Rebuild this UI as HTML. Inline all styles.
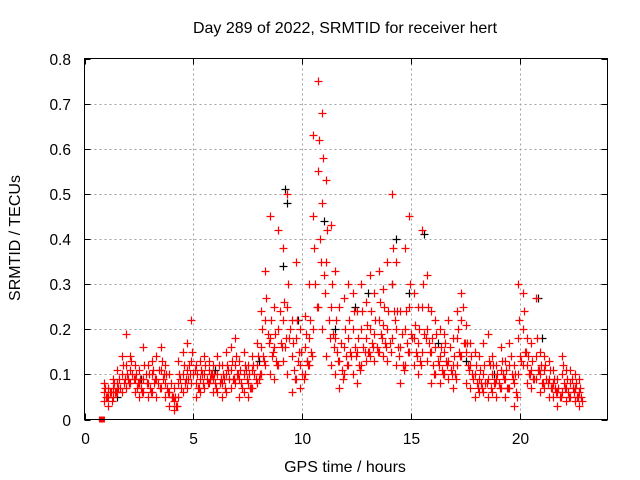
<!DOCTYPE html>
<html><head><meta charset="utf-8"><style>
body{margin:0;background:#fff}
svg{display:block;font-family:"Liberation Sans",sans-serif}
</style></head><body>
<svg id="chart" width="640" height="480" viewBox="0 0 640 480" xmlns="http://www.w3.org/2000/svg">
<rect width="640" height="480" fill="#fff"/>
<text x="345" y="33" font-size="16" text-anchor="middle">Day 289 of 2022, SRMTID for receiver hert</text>
<text transform="translate(20,238) rotate(-90)" font-size="16" text-anchor="middle">SRMTID / TECUs</text>
<text x="345" y="472" font-size="16" text-anchor="middle">GPS time / hours</text>
<g id="grid"></g>
<g id="ticks"></g>
<g id="blk"></g>
<g id="red"></g>
<rect x="84.5" y="58.5" width="523" height="361" fill="none" stroke="#000" stroke-width="1"/>
</svg>
<script>
const xTicks=[0,5,10,15,20];
const yTicks=[0,0.1,0.2,0.3,0.4,0.5,0.6,0.7,0.8];
const times=[0.9,1.1,1.3,1.5,1.7,1.9,2.1,2.3,2.5,2.7,2.9,3.1,3.3,3.5,3.7,3.9,4.1,4.3,4.5,4.7,4.9,5.1,5.3,5.5,5.7,5.9,6.1,6.3,6.5,6.7,6.9,7.1,7.3,7.5,7.7,7.9,8.1,8.3,8.5,8.7,8.9,9.1,9.3,9.5,9.7,9.9,10.1,10.3,10.5,10.7,10.9,11.1,11.3,11.5,11.7,11.9,12.1,12.3,12.5,12.7,12.9,13.1,13.3,13.5,13.7,13.9,14.1,14.3,14.5,14.7,14.9,15.1,15.3,15.5,15.7,15.9,16.1,16.3,16.5,16.7,16.9,17.1,17.3,17.5,17.7,17.9,18.1,18.3,18.5,18.7,18.9,19.1,19.3,19.5,19.7,19.9,20.1,20.3,20.5,20.7,20.9,21.1,21.3,21.5,21.7,21.9,22.1,22.3,22.5,22.7];
const redLo=[.04,.03,.05,.06,.06,.07,.08,.06,.05,.06,.05,.06,.05,.07,.05,.03,.02,.05,.06,.07,.08,.05,.06,.07,.08,.06,.06,.05,.06,.07,.08,.05,.06,.05,.07,.08,.10,.12,.10,.09,.12,.13,.10,.06,.09,.07,.10,.12,.20,.25,.20,.14,.12,.10,.07,.10,.12,.10,.08,.12,.13,.14,.13,.15,.14,.13,.18,.12,.08,.12,.15,.12,.10,.15,.13,.08,.10,.08,.10,.09,.07,.12,.14,.08,.07,.05,.06,.06,.05,.06,.05,.07,.05,.07,.03,.10,.12,.08,.07,.09,.06,.07,.05,.05,.03,.06,.04,.05,.04,.03];
const redMid=[.06,.05,.07,.08,.10,.12,.11,.09,.08,.09,.08,.10,.09,.11,.08,.06,.04,.08,.10,.11,.13,.08,.09,.10,.11,.09,.10,.08,.10,.11,.12,.09,.10,.08,.11,.12,.16,.22,.18,.16,.20,.22,.25,.14,.18,.12,.16,.18,.45,.55,.48,.35,.25,.18,.13,.16,.18,.20,.15,.20,.18,.20,.19,.22,.21,.20,.30,.20,.16,.20,.25,.18,.17,.25,.20,.15,.16,.14,.15,.13,.12,.18,.22,.15,.12,.10,.09,.10,.09,.10,.09,.11,.09,.12,.08,.18,.20,.12,.11,.14,.10,.11,.09,.08,.06,.10,.07,.08,.07,.06];
const redHi=[.08,.07,.09,.11,.14,.19,.14,.12,.11,.16,.12,.13,.14,.16,.12,.10,.07,.13,.15,.17,.22,.12,.13,.14,.13,.12,.14,.12,.15,.16,.18,.13,.15,.12,.14,.17,.24,.33,.45,.25,.42,.38,.50,.22,.35,.20,.23,.30,.63,.75,.68,.53,.43,.33,.25,.27,.30,.28,.24,.30,.26,.32,.28,.33,.29,.35,.50,.35,.24,.38,.45,.28,.25,.42,.32,.24,.22,.20,.19,.22,.18,.24,.28,.21,.17,.15,.14,.17,.19,.14,.12,.16,.13,.17,.12,.30,.28,.18,.17,.27,.15,.14,.13,.11,.09,.14,.11,.11,.10,.09];
const redExtra=[.05,.06,.06,.09,.08,.09,.10,.07,.07,.10,.07,.08,.11,.09,.07,.05,.03,.09,.08,.12,.10,.07,.10,.09,.10,.08,.08,.09,.11,.09,.10,.08,.11,.07,.10,.09,.14,.19,.14,.13,.17,.16,.18,.11,.13,.10,.13,.15,.30,.40,.32,.22,.19,.15,.11,.14,.15,.16,.12,.16,.15,.17,.16,.19,.17,.17,.24,.16,.12,.17,.19,.15,.13,.19,.17,.12,.13,.11,.13,.11,.10,.15,.17,.12,.10,.08,.08,.08,.12,.08,.08,.10,.07,.10,.06,.14,.15,.10,.09,.11,.08,.09,.07,.07,.05,.08,.06,.07,.05,.05];
const redFill1=[.07,.06,.08,.07,.12,.10,.13,.10,.09,.12,.10,.11,.08,.13,.10,.08,.05,.10,.12,.09,.15,.10,.11,.12,.09,.10,.12,.10,.12,.13,.14,.11,.12,.10,.12,.14,.20,.27,.22,.19,.24,.26,.30,.17,.22,.15,.19,.22,.38,.62,.58,.42,.30,.22,.17,.20,.22,.24,.18,.24,.21,.24,.22,.26,.25,.24,.38,.24,.19,.24,.30,.21,.20,.30,.25,.18,.19,.16,.17,.16,.14,.20,.25,.17,.14,.12,.11,.12,.13,.12,.10,.13,.11,.14,.10,.22,.24,.14,.13,.18,.12,.12,.11,.09,.07,.12,.09,.09,.08,.07];
const redFill2=[.05,.04,.06,.07,.09,.08,.09,.08,.06,.08,.06,.09,.07,.10,.06,.05,.03,.07,.09,.10,.11,.07,.08,.08,.10,.07,.09,.07,.09,.09,.10,.07,.09,.07,.09,.10,.13,.17,.15,.12,.16,.18,.20,.09,.15,.09,.12,.14,.25,.35,.28,.18,.16,.13,.09,.12,.14,.14,.11,.15,.15,.16,.15,.18,.16,.15,.22,.14,.11,.15,.18,.14,.12,.18,.15,.10,.12,.10,.12,.10,.09,.14,.17,.11,.09,.07,.07,.08,.07,.08,.07,.09,.07,.09,.05,.13,.15,.10,.09,.11,.08,.08,.07,.06,.05,.07,.05,.06,.05,.04];
const blackT=[1.5,2.6,4.0,6.0,8.0,9.1,9.2,9.3,9.8,10.2,11.0,11.5,12.4,13.0,14.1,14.3,14.9,15.6,16.2,17.5,18.8,20.8,21.0,22.5];
const blackV=[.05,.09,.05,.11,.13,.34,.51,.48,.22,.13,.44,.20,.25,.28,.30,.40,.28,.41,.17,.13,.10,.27,.18,.07];
const squareT=[0.8], squareV=[0];

const X0=84.5,X1=607.5,Y0=419.5,Y1=58.5,XMAX=24,YMAX=0.8;
const sx=v=>X0+(X1-X0)*v/XMAX;
const sy=v=>Y0-(Y0-Y1)*v/YMAX;
const NS="http://www.w3.org/2000/svg";
function mk(tag,attrs,parent){const e=document.createElementNS(NS,tag);for(const k in attrs)e.setAttribute(k,attrs[k]);parent.appendChild(e);return e;}
const grid=document.getElementById('grid'),ticks=document.getElementById('ticks');
xTicks.forEach(t=>{
  const x=Math.round(sx(t))+0.5;
  if(t>0){const l=mk('line',{x1:x,x2:x,y1:Y1,y2:Y0,stroke:'#a0a0a0','stroke-dasharray':'2,3'},grid);
  
  }
  mk('line',{x1:x,x2:x,y1:Y0,y2:Y0-6,stroke:'#000'},ticks);
  mk('line',{x1:x,x2:x,y1:Y1,y2:Y1+6,stroke:'#000'},ticks);
  const tx=mk('text',{x:x,y:444,'font-size':15.5,'text-anchor':'middle'},ticks);tx.textContent=t;
  
  
});
yTicks.forEach(t=>{
  const y=Math.round(sy(t))+0.5;
  if(t>0&&t<0.8){const l=mk('line',{x1:X0,x2:X1,y1:y,y2:y,stroke:'#a0a0a0','stroke-dasharray':'2,3'},grid);
  
  }
  mk('line',{x1:X0,x2:X0+6,y1:y,y2:y,stroke:'#000'},ticks);
  mk('line',{x1:X1,x2:X1-6,y1:y,y2:y,stroke:'#000'},ticks);
  const tx=mk('text',{x:71,y:y+5.5,'font-size':15.5,'text-anchor':'end'},ticks);tx.textContent=(t===0?'0':t.toFixed(1));
  
  
});
function plus(g,t,v,col){
  const x=Math.round(sx(t))+0.5,y=Math.round(sy(v))+0.5;
  const p=mk('path',{d:`M${x-4},${y}H${x+4}M${x},${y-4}V${y+4}`,stroke:col,'stroke-width':1.2,fill:'none'},g);
  
  
}
const blk=document.getElementById('blk'),red=document.getElementById('red');
blackT.forEach((t,i)=>plus(blk,t,blackV[i],'#000'));
[redLo,redMid,redHi].forEach(arr=>times.forEach((t,i)=>{if(arr[i]!==undefined)plus(red,t,arr[i],'#f00');}));
times.forEach((t,i)=>{if(redExtra[i]!==undefined)plus(red,t+0.1,redExtra[i],'#f00');});
times.forEach((t,i)=>{if(redFill1[i]!==undefined)plus(red,t+0.05,redFill1[i],'#f00');});
times.forEach((t,i)=>{if(redFill2[i]!==undefined)plus(red,t+0.15,redFill2[i],'#f00');});
squareT.forEach((t,i)=>{const r=mk('rect',{x:sx(t)-3,y:sy(squareV[i])-3,width:6,height:6,fill:'#f00'},red);

});
</script>
</body></html>
